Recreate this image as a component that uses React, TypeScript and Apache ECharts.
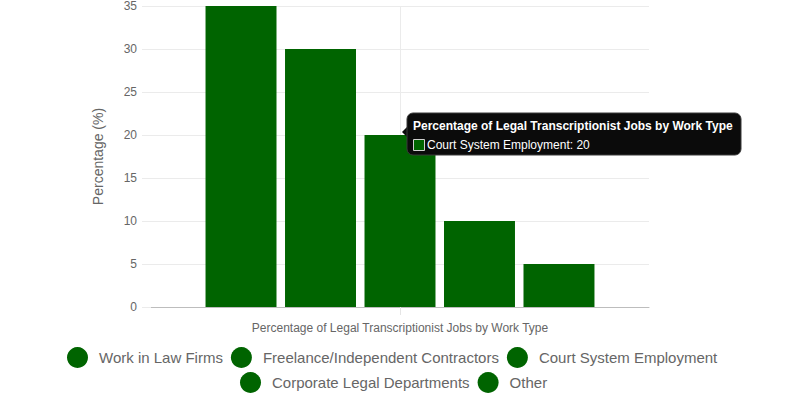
import React, { useEffect, useRef } from "react";
import * as echarts from "echarts";

const CATEGORIES = ["Percentage of Legal Transcriptionist Jobs by Work Type"];
const SERIES_NAMES = [
  "Work in Law Firms",
  "Freelance/Independent Contractors",
  "Court System Employment",
  "Corporate Legal Departments",
  "Other",
];
const SERIES_VALUES = [35, 30, 20, 10, 5];
const Y_MIN = 0;
const Y_MAX = 35;
const Y_STEP = 5;
const Y_TITLE = "Percentage (%)";
const TOOLTIP_INDEX = 2;

const GREEN = "#006400";
const FONT = "'Liberation Sans', Arial, Helvetica, sans-serif";

export default function App() {
  const ref = useRef<HTMLDivElement>(null);

  useEffect(() => {
    document.body.style.margin = "0";
    if (!ref.current) return;
    const chart = echarts.init(ref.current, undefined, { renderer: "svg" });

    const legendBase = {
      orient: "horizontal",
      icon: "circle",
      itemWidth: 21,
      itemHeight: 21,
      itemGap: 8,
      padding: 0,
      selectedMode: false,
      textStyle: { color: "#666", fontSize: 15, fontFamily: FONT, padding: [0, 0, 0, 6] },
    };

    chart.setOption({
      animation: false,
      textStyle: { fontFamily: FONT },
      grid: { left: 151, right: 151, top: 6, bottom: 93, containLabel: false },
      xAxis: {
        type: "category",
        data: CATEGORIES,
        axisLine: { show: true, lineStyle: { color: "#bdbdbd", width: 1 } },
        axisTick: { show: true, alignWithLabel: true, length: 8, lineStyle: { color: "#e5e5e5" } },
        axisLabel: { color: "#666", fontSize: 12, margin: 15, fontFamily: FONT },
        splitLine: { show: true, alignWithLabel: true, lineStyle: { color: "#ebebeb" } },
      },
      yAxis: {
        type: "value",
        min: Y_MIN,
        max: Y_MAX,
        interval: Y_STEP,
        name: Y_TITLE,
        nameLocation: "middle",
        nameGap: 46,
        nameTextStyle: { color: "#666", fontSize: 14, fontFamily: FONT },
        axisLine: { show: false },
        axisTick: { show: true, length: 9, lineStyle: { color: "#ebebeb" } },
        axisLabel: { color: "#666", fontSize: 12, margin: 14, fontFamily: FONT },
        splitLine: { show: true, lineStyle: { color: "#ebebeb" } },
      },
      legend: [
        { ...legendBase, data: SERIES_NAMES.slice(0, 3), left: 67, top: 347 },
        { ...legendBase, data: SERIES_NAMES.slice(3), left: 240, top: 372 },
      ],
      series: SERIES_NAMES.map((name, i) => ({
        type: "bar",
        name,
        data: [SERIES_VALUES[i]],
        itemStyle: { color: GREEN },
        barGap: "12%",
        barCategoryGap: "21.9%",
        z: 2,
      })),
    });

    const yPix = chart.convertToPixel({ yAxisIndex: 0 }, SERIES_VALUES[TOOLTIP_INDEX]) as number;
    const top = yPix - 22;
    const Z = 100;
    chart.setOption({
      graphic: [
        {
          type: "group",
          x: 407,
          y: top,
          z: Z,
          children: [
            {
              type: "polygon",
              z: Z,
              shape: { points: [[0, 14], [-5, 19], [0, 24]] },
              style: { fill: "#0b0b0b" },
            },
            {
              type: "rect",
              z: Z,
              shape: { x: 0, y: 0, width: 334, height: 42, r: 6 },
              style: { fill: "#0b0b0b", stroke: "#3a3a3a", lineWidth: 1 },
            },
            {
              type: "text",
              z: Z + 1,
              x: 6,
              y: 13,
              style: {
                text: CATEGORIES[0],
                fill: "#fff",
                font: `bold 12px ${FONT}`,
                verticalAlign: "middle",
                align: "left",
              },
            },
            {
              type: "rect",
              z: Z + 1,
              shape: { x: 6.5, y: 26.5, width: 11, height: 11 },
              style: { fill: GREEN, stroke: "#d0d0d0", lineWidth: 1 },
            },
            {
              type: "text",
              z: Z + 1,
              x: 20,
              y: 31.5,
              style: {
                text: `${SERIES_NAMES[TOOLTIP_INDEX]}: ${SERIES_VALUES[TOOLTIP_INDEX]}`,
                fill: "#fff",
                font: `12px ${FONT}`,
                verticalAlign: "middle",
                align: "left",
              },
            },
          ],
        },
      ],
    });

    return () => chart.dispose();
  }, []);

  return <div ref={ref} style={{ width: 800, height: 400 }} />;
}
